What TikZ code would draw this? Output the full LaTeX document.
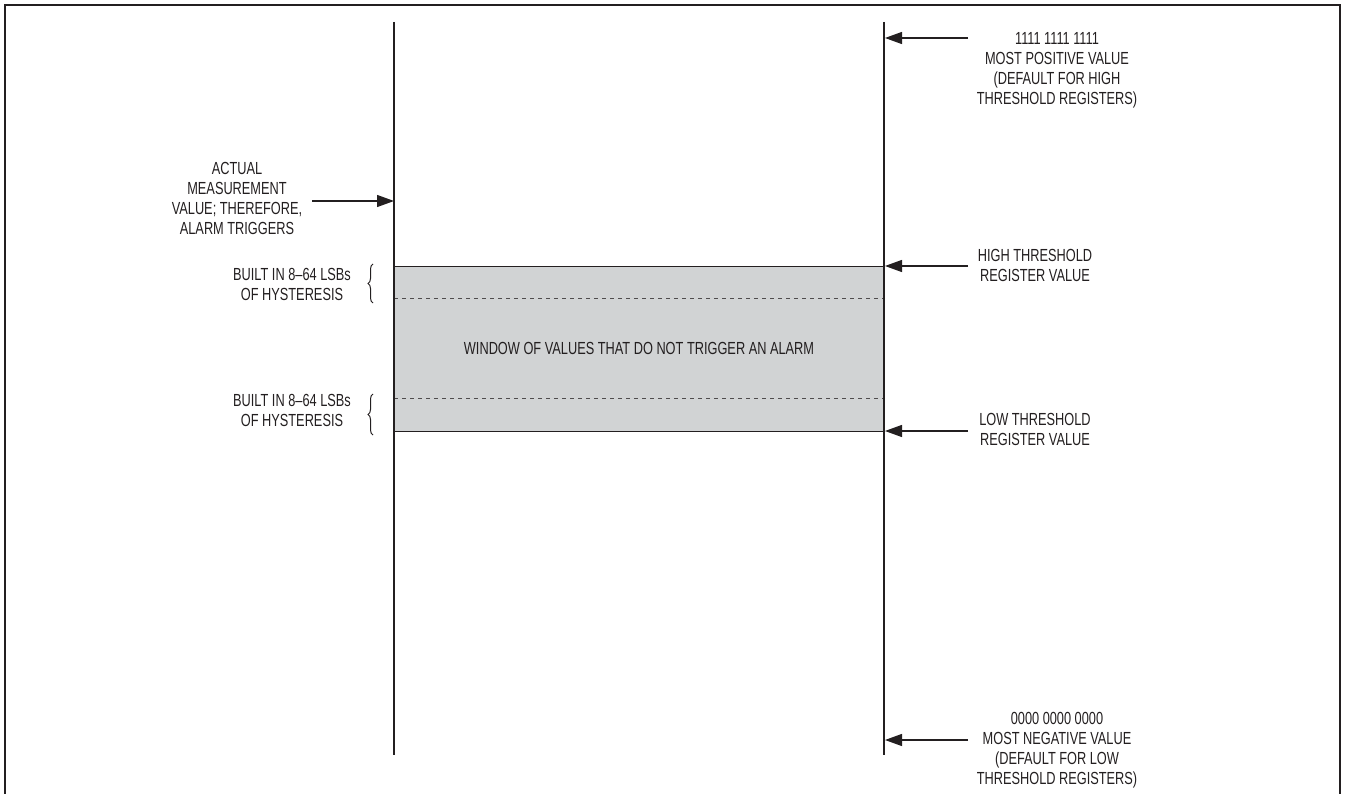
\documentclass[tikz,border=0pt]{standalone}
\usepackage{fontspec}
\setmainfont{Liberation Sans}[FakeStretch=0.73]
\usetikzlibrary{arrows.meta,decorations.pathreplacing}
\definecolor{winfill}{HTML}{D1D3D4}
\definecolor{inkc}{HTML}{231F20}
\tikzset{
  lbl/.style={align=center,inner sep=0pt,text=inkc,font=\fontsize{17.5}{20}\selectfont},
  axis/.style={draw=inkc,line width=1.3pt},
  ptr/.style={draw=inkc,line width=1.3pt,-{Triangle[length=17pt,width=12pt]}},
  hbrace/.style={draw=inkc,line width=1pt,decorate,decoration={brace,amplitude=5pt}},
  hyst/.style={draw=inkc!80,line width=0.8pt,dash pattern=on 4pt off 4pt}
}
\begin{document}
\begin{tikzpicture}[x=1pt,y=-1pt]
\useasboundingbox (0,0) rectangle (1347,794);
% frame (no bottom edge)
\draw[inkc,line width=2pt] (5,794) -- (5,5) -- (1340,5) -- (1340,794);
% window
\node[draw=inkc,line width=1pt,fill=winfill,minimum width=490pt,minimum height=165pt,inner sep=0pt,anchor=north west] (win) at (394,266) {};
\node[lbl] (wintxt) at (639,348) {WINDOW OF VALUES THAT DO NOT TRIGGER AN ALARM};
\draw[hyst] (394,298) -- (884,298);
\draw[hyst] (394,398) -- (884,398);
% vertical lines
\coordinate (L1) at (394,22); \coordinate (L2) at (394,755);
\coordinate (R1) at (884,22); \coordinate (R2) at (884,755);
\draw[axis] (L1) -- (L2);
\draw[axis] (R1) -- (R2);
% left label with arrow
\node[lbl] (act) at (237,198) {ACTUAL\\MEASUREMENT\\VALUE; THEREFORE,\\ALARM TRIGGERS};
\coordinate (actS) at (312,201); \coordinate (actE) at (394,201);
\draw[ptr] (actS) -- (actE);
% hysteresis labels with braces
\node[lbl] (hys1) at (292,284) {BUILT IN 8–64 LSBs\\OF HYSTERESIS};
\node[lbl] (hys2) at (292,410) {BUILT IN 8–64 LSBs\\OF HYSTERESIS};
\coordinate (b1a) at (373,303); \coordinate (b1b) at (373,264);
\coordinate (b2a) at (373,435); \coordinate (b2b) at (373,394);
\draw[hbrace] (b1a) -- (b1b);
\draw[hbrace] (b2a) -- (b2b);
% right labels with arrows
\node[lbl] (top) at (1057,70) {1111 1111 1111\\MOST POSITIVE VALUE\\(DEFAULT FOR HIGH\\THRESHOLD REGISTERS)};
\node[lbl] (high) at (1035,265) {HIGH THRESHOLD\\REGISTER VALUE};
\node[lbl] (low) at (1035,429) {LOW THRESHOLD\\REGISTER VALUE};
\node[lbl] (bot) at (1057,750) {0000 0000 0000\\MOST NEGATIVE VALUE\\(DEFAULT FOR LOW\\THRESHOLD REGISTERS)};
\coordinate (tS) at (968,38); \coordinate (tE) at (885,38);
\coordinate (hS) at (968,266); \coordinate (hE) at (885,266);
\coordinate (lS) at (968,431); \coordinate (lE) at (885,431);
\coordinate (bS) at (968,740); \coordinate (bE) at (885,740);
\draw[ptr] (tS) -- (tE);
\draw[ptr] (hS) -- (hE);
\draw[ptr] (lS) -- (lE);
\draw[ptr] (bS) -- (bE);
\end{tikzpicture}
\end{document}
